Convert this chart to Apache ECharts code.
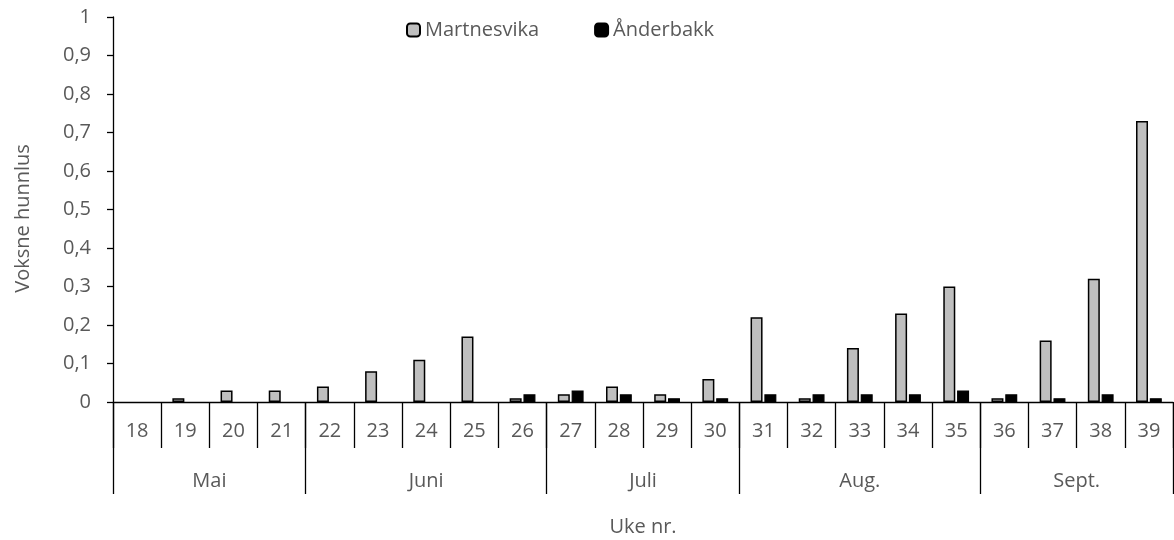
<!DOCTYPE html>
<html>
<head>
<meta charset="utf-8">
<script src="https://cdn.jsdelivr.net/npm/echarts@6/dist/echarts.min.js"></script>
<style>
  html, body { margin: 0; padding: 0; background: #fff; }
  #chart { width: 1174px; height: 540px; }
</style>
</head>
<body>
<div id="chart"></div>
<script>
// uke-nummer og månedsgrupper
const weeks = ['18', '19', '20', '21', '22', '23', '24', '25', '26', '27', '28',
               '29', '30', '31', '32', '33', '34', '35', '36', '37', '38', '39'];
const months = ['Mai', 'Juni', 'Juli', 'Aug.', 'Sept.'];
const monthWeeks = [4, 5, 4, 5, 4];

// voksne hunnlus per lokalitet
const martnesvika = [0, 0.01, 0.03, 0.03, 0.04, 0.08, 0.11, 0.17, 0.01, 0.02, 0.04,
                     0.02, 0.06, 0.22, 0.01, 0.14, 0.23, 0.30, 0.01, 0.16, 0.32, 0.73];
const anderbakk = [0, 0, 0, 0, 0, 0, 0, 0, 0.02, 0.03, 0.02,
                   0.01, 0.01, 0.02, 0.02, 0.02, 0.02, 0.03, 0.02, 0.01, 0.02, 0.01];

const textColor = '#595959';
const fontSize = 20;

// månedsaksen: en kategori per halve uke, slik at både grenser og midtpunkt treffer
const halfSteps = weeks.length * 2 + 1;
const monthAxisData = new Array(halfSteps).fill('');
const monthBounds = new Set([0]);
let pos = 0;
months.forEach((m, i) => {
    monthAxisData[pos * 2 + monthWeeks[i]] = m;
    pos += monthWeeks[i];
    monthBounds.add(pos * 2);
});

// nullverdier tegnes ikke (ingen kantlinje)
const toBars = (arr) => arr.map(v => v === 0 ? { value: v, itemStyle: { borderWidth: 0, opacity: 0 } } : v);

const chart = echarts.init(document.getElementById('chart'));

const option = {
    animation: false,
    textStyle: { fontFamily: 'Open Sans' },
    legend: {
        data: ['Martnesvika', 'Ånderbakk'],
        left: 401,
        top: 15,
        itemWidth: 13,
        itemHeight: 13,
        itemGap: 55,
        selectedMode: false,
        textStyle: { color: textColor, fontSize: fontSize, fontFamily: 'Open Sans' }
    },
    grid: { left: 113, right: 1, top: 17, bottom: 138, containLabel: false, outerBoundsMode: 'none' },
    xAxis: [
        {
            type: 'category',
            data: weeks,
            position: 'bottom',
            axisLine: { lineStyle: { color: '#000', width: 1.3 } },
            axisTick: { show: true, interval: 0, length: 46, lineStyle: { color: '#000', width: 1.3 } },
            axisLabel: { interval: 0, margin: 19, color: textColor, fontSize: fontSize },
            name: 'Uke nr.',
            nameLocation: 'middle',
            nameGap: 115,
            nameTextStyle: { color: textColor, fontSize: fontSize }
        },
        {
            type: 'category',
            data: monthAxisData,
            position: 'bottom',
            boundaryGap: false,
            axisLine: { show: false },
            axisTick: {
                show: true,
                length: 92,
                interval: (idx) => monthBounds.has(idx),
                lineStyle: { color: '#000', width: 1.3 }
            },
            axisLabel: {
                margin: 69,
                interval: (idx, val) => val !== '',
                color: textColor,
                fontSize: fontSize
            }
        }
    ],
    yAxis: {
        type: 'value',
        min: 0,
        max: 1,
        interval: 0.1,
        name: 'Voksne hunnlus',
        nameLocation: 'middle',
        nameGap: 80,
        nameTextStyle: { color: textColor, fontSize: fontSize, padding: [0, 18, 0, 0] },
        axisLine: { show: true, lineStyle: { color: '#000', width: 1.3 } },
        axisTick: { show: true, length: 6, lineStyle: { color: '#000', width: 1.3 } },
        splitLine: { show: false },
        axisLabel: {
            margin: 22,
            color: textColor,
            fontSize: fontSize,
            formatter: (v) => String(+v.toFixed(1)).replace('.', ',')
        }
    },
    series: [
        {
            name: 'Martnesvika',
            type: 'bar',
            data: toBars(martnesvika),
            barWidth: 12,
            barGap: '15%',
            itemStyle: { color: '#bfbfbf', borderColor: '#000', borderWidth: 1.5 }
        },
        {
            name: 'Ånderbakk',
            type: 'bar',
            data: toBars(anderbakk),
            barWidth: 12,
            itemStyle: { color: '#000', borderColor: '#000', borderWidth: 1.2 }
        }
    ]
};

chart.setOption(option);
</script>
</body>
</html>
